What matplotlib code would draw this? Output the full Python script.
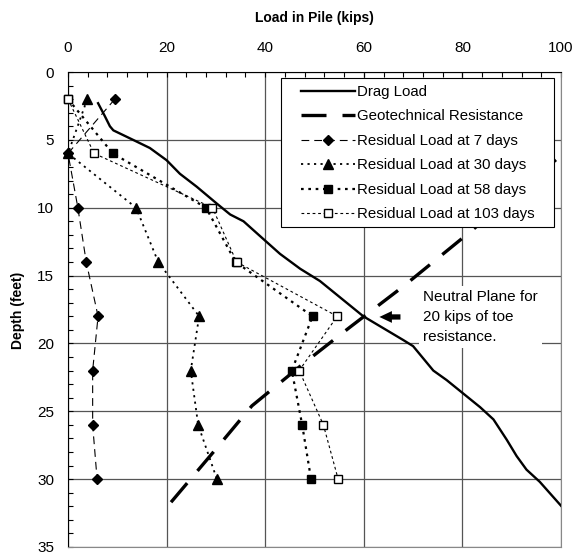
import numpy as np
import matplotlib
matplotlib.use("Agg")
import matplotlib.pyplot as plt
from matplotlib.patches import Rectangle

plt.rcParams['font.family'] = ['Liberation Sans', 'DejaVu Sans']

# drag load distribution along the pile
drag_load = [6.1, 7.4, 8.5, 9.2, 13.2, 16.6, 20.0, 22.7, 26.1, 30.2, 32.9, 35.6,
             39.6, 43.0, 47.1, 51.1, 59.9, 68.0, 70.0, 74.1, 76.8, 80.2, 83.6,
             86.3, 89.0, 91.0, 93.0, 95.7, 100.1]
drag_depth = [2.3, 3.2, 4.0, 4.3, 5.0, 5.6, 6.5, 7.5, 8.45, 9.7, 10.5, 11.0,
              12.3, 13.4, 14.5, 15.4, 18.0, 19.75, 20.2, 22.0, 22.7, 23.7, 24.7,
              25.6, 27.1, 28.3, 29.3, 30.2, 32.0]

# geotechnical resistance curve
geo_load = [20.9, 29.5, 37.3, 47.7, 57.2, 68.0, 81.5, 100.5]
geo_depth = [31.7, 28.0, 24.6, 21.5, 18.8, 15.8, 11.8, 6.0]

# residual load measurements at gauge depths
gauge_depth = [2, 6, 10, 14, 18, 22, 26, 30]
res_7 = [9.5, 0.0, 2.0, 3.7, 6.1, 5.0, 5.0, 5.9]
res_30 = [3.9, 0.0, 13.8, 18.3, 26.6, 24.9, 26.4, 30.2]
res_58 = [0.0, 9.1, 28.0, 34.0, 49.6, 45.4, 47.5, 49.3]
res_103 = [0.0, 5.3, 29.3, 34.2, 54.6, 46.9, 51.8, 54.8]

fig = plt.figure(figsize=(5.85, 5.55), dpi=100)
ax = fig.add_axes([68/585, 8/555, 493/585, 475/555])

ax.plot(drag_load, drag_depth, color='black', lw=1.7, label='Drag Load', zorder=4)
ax.plot(geo_load, geo_depth, color='black', lw=2.4, dashes=(7.5, 4.8),
        label='Geotechnical Resistance', zorder=4)
ax.plot(res_7, gauge_depth, color='black', lw=0.8, dashes=(7, 4.5),
        marker='D', ms=5.5, label='Residual Load at 7 days', zorder=5, clip_on=False)
ax.plot(res_30, gauge_depth, color='black', lw=1.3, dashes=(1.2, 2.4),
        marker='^', ms=7, label='Residual Load at 30 days', zorder=5, clip_on=False)
ax.plot(res_58, gauge_depth, color='black', lw=1.6, dashes=(1.2, 2.1),
        marker='s', ms=5.5, label='Residual Load at 58 days', zorder=5, clip_on=False)
ax.plot(res_103, gauge_depth, color='black', lw=0.8, dashes=(2.5, 2.5),
        marker='s', ms=5.5, mfc='white', mec='black', mew=1.0,
        label='Residual Load at 103 days', zorder=6, clip_on=False)

ax.set_xlim(0, 100)
ax.set_ylim(35, 0)
ax.xaxis.tick_top()
ax.set_xticks(np.arange(0, 101, 20))
ax.set_yticks(np.arange(0, 36, 5))
ax.set_xticks(np.arange(0, 101, 4), minor=True)
ax.set_yticks(np.arange(0, 36, 1), minor=True)
ax.tick_params(which='both', direction='in', length=3.5, width=0.8,
               top=True, bottom=False, left=True, right=False)
ax.tick_params(axis='x', labelsize=11, pad=12)
ax.tick_params(axis='y', labelsize=11, pad=10)
ax.grid(True, which='major', color='#555555', lw=0.9)
ax.set_axisbelow(True)
for side in ['right', 'bottom']:
    ax.spines[side].set_color('#888888')
for side in ['left', 'top']:
    ax.spines[side].set_color('black')

fig.text(314/585, 1 - 18/555, 'Load in Pile (kips)', ha='center', va='center',
         fontsize=10, fontweight='bold')
fig.text(18/585, 1 - 310/555, 'Depth (feet)', ha='center', va='center',
         rotation=90, fontsize=10, fontweight='bold')

# legend box drawn separately so the padding can be uneven
ax.add_patch(Rectangle((0.432, 0.674), 0.554, 0.313, transform=ax.transAxes,
                       facecolor='white', edgecolor='black', lw=0.8, zorder=9))
leg = ax.legend(loc='upper left', bbox_to_anchor=(0.4726, 0.973), borderaxespad=0,
                fontsize=10.8, numpoints=1, handlelength=3.6, handletextpad=0.13,
                labelspacing=0.7, frameon=False, borderpad=0)
leg.set_zorder(10)

ax.text(72.0, 18.05, 'Neutral Plane for\n20 kips of toe\nresistance.',
        fontsize=11, ha='left', va='center', linespacing=1.55, zorder=7,
        bbox=dict(facecolor='white', edgecolor='none', pad=3))
ax.annotate('', xy=(62.6, 18.05), xytext=(68.0, 18.05),
            arrowprops=dict(arrowstyle='simple,head_length=0.9,head_width=0.85,tail_width=0.38',
                            color='black', lw=0), zorder=7)

fig.savefig('out.png', dpi=100)
